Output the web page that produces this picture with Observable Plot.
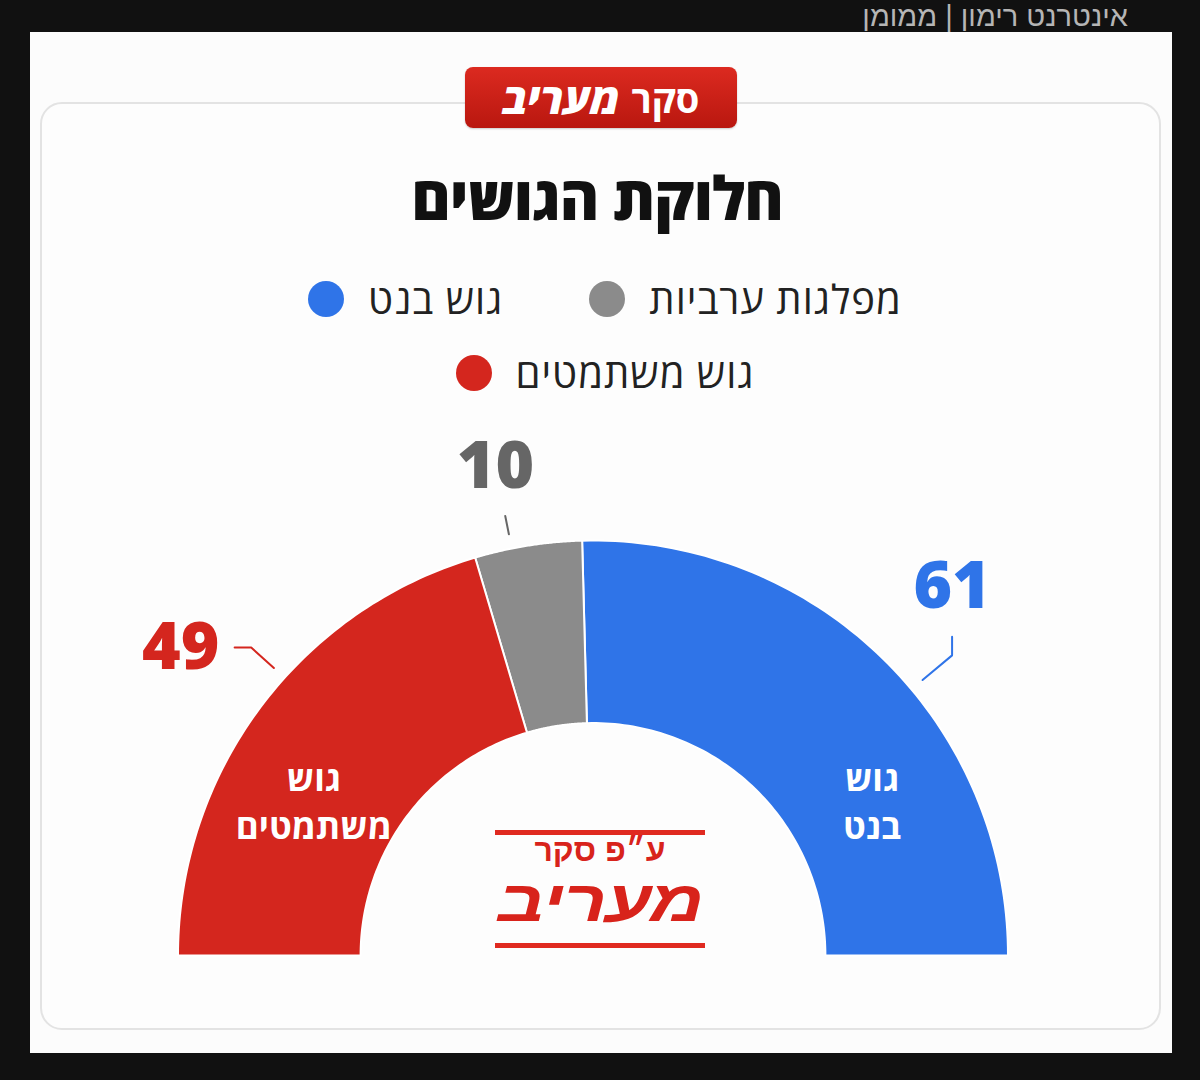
<!DOCTYPE html>
<html lang="he">
<head>
<meta charset="utf-8">
<script src="https://cdn.jsdelivr.net/npm/d3@7"></script>
<script src="https://cdn.jsdelivr.net/npm/@observablehq/plot@0.6"></script>
<style>
  html, body { margin: 0; padding: 0; background: #111; }
  #page { position: relative; width: 1200px; height: 1080px; overflow: hidden; background: #111;
          font-family: "Open Sans", "Liberation Sans", "DejaVu Sans", sans-serif; }
  #topnote { position: absolute; right: 72px; top: 0px; color: #b5b5b5; font-size: 29px; font-weight: 300;
             line-height: 32px; font-family: "Liberation Sans", "Open Sans", sans-serif; direction: rtl; white-space: nowrap; }
  #panel { position: absolute; left: 30px; top: 32px; width: 1142px; height: 1021px; background: #fcfcfc; }
  #card { position: absolute; left: 40px; top: 102px; width: 1117px; height: 924px; border: 2px solid #e3e3e3;
          border-radius: 22px; background: #fdfdfd; }
  #badge { position: absolute; left: 465px; top: 67px; width: 272px; height: 61px; border-radius: 8px;
           background: linear-gradient(#dc2a20, #b9170f); color: #fff; display: flex; align-items: center;
           justify-content: center; direction: rtl; font-size: 38px; font-weight: 700; gap: 12px;
           box-shadow: 0 1px 2px rgba(0,0,0,0.2); }
  #badge .m { font-style: italic; font-weight: 800; font-size: 42px; }
  #title { position: absolute; left: 0; width: 1194px; top: 156px; text-align: center; direction: rtl;
           font-size: 60px; font-weight: 800; color: #111; letter-spacing: -1px; }
  #legend { position: absolute; left: 280px; width: 650px; top: 274px; display: flex; flex-wrap: wrap;
            direction: rtl; justify-content: center; column-gap: 86px; row-gap: 24px; }
  .item { display: flex; align-items: center; gap: 24px; font-size: 40px; letter-spacing: 1px; color: #222; line-height: 50px; }
  .dot { width: 36px; height: 36px; border-radius: 50%; }
  #chart { position: absolute; left: 0; top: 420px; }
  #logo { position: absolute; left: 495px; top: 830px; width: 210px; height: 117px; direction: rtl; color: #d8231b;
          text-align: center; font-family: "Liberation Sans", "Open Sans", sans-serif; }
  #logo .rule { position: absolute; left: 0; width: 210px; height: 5px; background: #e02a20; }
  #logo .l1 { position: absolute; top: 3px; width: 210px; font-size: 32px; line-height: 34px; font-weight: 700; }
  #logo .l2 { position: absolute; top: 42px; width: 210px; font-size: 58px; line-height: 58px; font-weight: 700;
              font-style: italic; letter-spacing: -1px; transform: scaleX(1.29); }
</style>
</head>
<body>
<div id="page">
  <div id="panel"></div>
  <div id="topnote">אינטרנט רימון | ממומן</div>
  <div id="card"></div>
  <div id="badge"><span>סקר</span><span class="m">מעריב</span></div>
  <div id="title">חלוקת הגושים</div>
  <div id="legend"></div>
  <div id="chart"></div>
  <div id="logo">
    <div class="rule" style="top:0"></div>
    <div class="l1">ע״פ סקר</div>
    <div class="l2">מעריב</div>
    <div class="rule" style="top:113px"></div>
  </div>
</div>
<script>
// ---- data ----
const blocs = ["גוש בנט", "מפלגות ערביות", "גוש משתמטים"];
const seats = [61, 10, 49];
const blocColors = ["#2f74e8", "#8b8b8b", "#d4261e"];
const labelColors = ["#2f74e8", "#666666", "#d4261e"];
const innerLabels = ["גוש\nבנט", "", "גוש\nמשתמטים"];
const legendOrder = ["מפלגות ערביות", "גוש בנט", "גוש משתמטים"];

// ---- legend ----
const legend = document.getElementById("legend");
legendOrder.forEach(name => {
  const i = blocs.indexOf(name);
  const it = document.createElement("div");
  it.className = "item";
  const t = document.createElement("span"); t.textContent = name;
  const d = document.createElement("span"); d.className = "dot"; d.style.background = blocColors[i];
  it.appendChild(t); it.appendChild(d);
  legend.appendChild(it);
});

// ---- geometry (unit: outer radius) ----
const R_OUT = 1, R_IN = 0.56, R_LABEL = 1.24, R_LEAD = 1.035;
const total = d3.sum(seats);
let acc = 0;
const slices = blocs.map((b, i) => {
  const a0 = acc / total * Math.PI; acc += seats[i];
  const a1 = acc / total * Math.PI;
  return {bloc: b, seats: seats[i], color: blocColors[i], labelColor: labelColors[i],
          inner: innerLabels[i], a0, a1, mid: (a0 + a1) / 2};
});
const polar = (r, a) => ({x: r * Math.cos(a), y: r * Math.sin(a)});

const ringPts = s => {
  const n = 80, pts = [];
  for (let k = 0; k <= n; k++) pts.push(polar(R_OUT, s.a0 + (s.a1 - s.a0) * k / n));
  for (let k = n; k >= 0; k--) pts.push(polar(R_IN, s.a0 + (s.a1 - s.a0) * k / n));
  return pts;
};

const labels = slices.map(s => {
  const a = Math.abs(Math.cos(s.mid)) < 0.3 ? s.mid + 0.04 : s.mid;
  const r = Math.abs(Math.cos(s.mid)) < 0.3 ? 1.2 : R_LABEL;
  return {...s, ...polar(r, a)};
});
const leaders = labels.flatMap(l => {
  let pts;
  if (Math.cos(l.mid) < -0.5) {
    const B = {x: l.x + 0.17, y: l.y};
    pts = [{x: l.x + 0.13, y: l.y}, B, polar(R_LEAD, Math.atan2(B.y, B.x))];
  } else if (Math.abs(Math.cos(l.mid)) < 0.3) {
    const a = Math.atan2(l.y, l.x);
    pts = [polar(R_LEAD + 0.045, a), polar(R_LEAD, a)];
  } else {
    const B = {x: l.x, y: l.y - 0.165};
    pts = [{x: l.x, y: l.y - 0.12}, B, polar(R_LEAD, Math.atan2(B.y, B.x))];
  }
  return pts.map(p => ({...p, bloc: l.bloc, color: l.labelColor}));
});
const innerPos = slices.filter(s => s.inner).map(s => {
  const v = 0.375, r = 0.77;
  const u = Math.sign(Math.cos(s.mid)) * Math.sqrt(r * r - v * v);
  return {...s, x: u, y: v};
});

const PX = 415, CX = 592.5, CY = 535, W = 1200, H = 560;
const chart = Plot.plot({
  width: W, height: H, margin: 0,
  x: {domain: [-CX / PX, (W - CX) / PX], axis: null},
  y: {domain: [-(H - CY) / PX, CY / PX], axis: null},
  color: {type: "identity"},
  style: {background: "transparent", overflow: "visible"},
  marks: [
    ...slices.map(s => Plot.line(ringPts(s), {x: "x", y: "y", fill: s.color, stroke: "#ffffff",
                                              strokeWidth: 2, curve: "linear-closed"})),
    Plot.line(leaders, {x: "x", y: "y", z: "bloc", stroke: "color", strokeWidth: 2}),
    Plot.text(labels, {x: "x", y: "y", text: d => String(d.seats), fill: "labelColor", fontSize: 66,
                       fontWeight: 800, fontFamily: "Open Sans, Liberation Sans, sans-serif"}),
    Plot.text(innerPos, {x: "x", y: "y", text: "inner", fill: "#ffffff", fontSize: 35, fontWeight: 700,
                         lineHeight: 1.35, fontFamily: "Open Sans, Liberation Sans, sans-serif"})
  ]
});
document.getElementById("chart").appendChild(chart);
</script>
</body>
</html>
